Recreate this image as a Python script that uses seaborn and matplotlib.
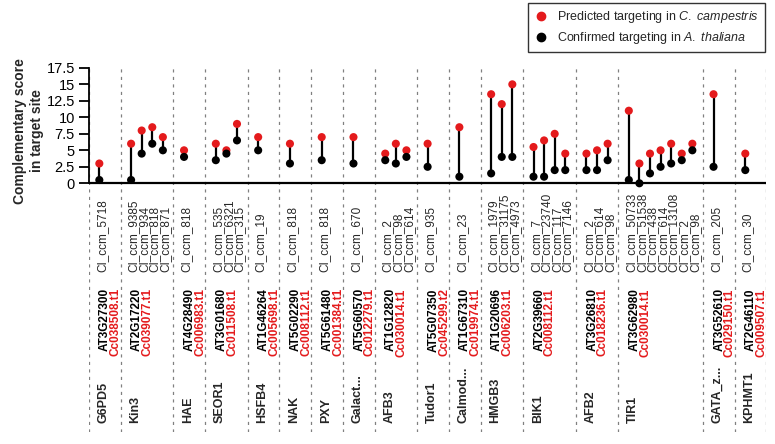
import numpy as np
import pandas as pd
import matplotlib
matplotlib.use("Agg")
import matplotlib.pyplot as plt
from matplotlib.lines import Line2D
import seaborn as sns

# ---------------------------
# Data
# ---------------------------
genes = ["G6PD5", "Kin3", "HAE", "SEOR1", "HSFB4", "NAK", "PXY", "Galact...",
         "AFB3", "Tudor1", "Calmod...", "HMGB3", "BIK1", "AFB2", "TIR1",
         "GATA_z...", "KPHMT1"]

at_ids = ["AT3G27300", "AT2G17220", "AT4G28490", "AT3G01680", "AT1G46264",
          "AT5G02290", "AT5G61480", "AT5G60570", "AT1G12820", "AT5G07350",
          "AT1G67310", "AT1G20696", "AT2G39660", "AT3G26810", "AT3G62980",
          "AT3G52610", "AT2G46110"]

cc_ids = ["Cc038508.t1", "Cc039077.t1", "Cc006983.t1", "Cc011508.t1",
          "Cc005698.t1", "Cc008112.t1", "Cc001384.t1", "Cc012279.t1",
          "Cc030014.t1", "Cc045299.t2", "Cc019974.t1", "Cc006203.t1",
          "Cc008112.t1", "Cc018236.t1", "Cc030014.t1", "Cc029150.t1",
          "Cc009507.t1"]

ci_labels = [
    ["CI_ccm_5718"],
    ["CI_ccm_9385", "CI_ccm_934", "CI_ccm_818", "CI_ccm_871"],
    ["CI_ccm_818"],
    ["CI_ccm_535", "CI_ccm_6321", "CI_ccm_315"],
    ["CI_ccm_19"],
    ["CI_ccm_818"],
    ["CI_ccm_818"],
    ["CI_ccm_670"],
    ["CI_ccm_2", "CI_ccm_98", "CI_ccm_614"],
    ["CI_ccm_935"],
    ["CI_ccm_23"],
    ["CI_ccm_1979", "CI_ccm_31175", "CI_ccm_4973"],
    ["CI_ccm_7", "CI_ccm_23740", "CI_ccm_117", "CI_ccm_7146"],
    ["CI_ccm_2", "CI_ccm_614", "CI_ccm_98"],
    ["CI_ccm_50733", "CI_ccm_51538", "CI_ccm_438", "CI_ccm_614",
     "CI_ccm_13108", "CI_ccm_2", "CI_ccm_98"],
    ["CI_ccm_205"],
    ["CI_ccm_30"],
]

predicted = [[3], [6, 8, 8.5, 7], [5], [6, 5, 9], [7], [6], [7], [7],
             [4.5, 6, 5], [6], [8.5], [13.5, 12, 15], [5.5, 6.5, 7.5, 4.5],
             [4.5, 5, 6], [11, 3, 4.5, 5, 6, 4.5, 6], [13.5], [4.5]]

confirmed = [[0.5], [0.5, 4.5, 6, 5], [4], [3.5, 4.5, 6.5], [5], [3], [3.5], [3],
             [3.5, 3, 4], [2.5], [1], [1.5, 4, 4], [1, 1, 2, 2],
             [2, 2, 3.5], [0.5, 0, 1.5, 2.5, 3, 3.5, 5], [2.5], [2]]

RED = "#E41A1C"

# ---------------------------
# Style
# ---------------------------
sns.set_style("white")
plt.rcParams["font.family"] = ["Liberation Sans", "DejaVu Sans"]
plt.rcParams["mathtext.fontset"] = "custom"
plt.rcParams["mathtext.rm"] = "Liberation Sans"
plt.rcParams["mathtext.it"] = "Liberation Sans:italic"

# ---------------------------
# Slot layout: each gene gets max(n, 2) slots + 1 gap
# ---------------------------
rows = []
group_start = []
separators = [-1]
pos = 0
for g, labels in enumerate(ci_labels):
    group_start.append(pos)
    for k, lab in enumerate(labels):
        rows.append({"slot": pos + k, "ci": lab,
                     "pred": predicted[g][k], "conf": confirmed[g][k]})
    width = max(len(labels), 2)
    separators.append(pos + width)
    pos += width + 1

df = pd.DataFrame(rows)
long_df = df.melt(id_vars=["slot"], value_vars=["pred", "conf"],
                  var_name="series", value_name="score")

# ---------------------------
# Plot
# ---------------------------
fig = plt.figure(figsize=(7.75, 4.44), dpi=100)
ax = fig.add_axes([0.1145, 0.027, 0.8745, 0.8266])

y_top, y_bottom = 17.93, -37.7

ax.vlines(separators, y_bottom, y_top, colors="#808080", linewidth=0.9,
          linestyles=(0, (2.5, 3.5)), zorder=1)
ax.vlines(df["slot"], df["conf"], df["pred"], colors="black",
          linewidth=1.6, zorder=2)
ax.axhline(0, color="black", linewidth=1.6, zorder=2)

sns.scatterplot(data=long_df, x="slot", y="score", hue="series",
                palette={"pred": RED, "conf": "black"}, s=34, linewidth=0,
                legend=False, ax=ax, zorder=3)

# labels below the baseline
for _, r in df.iterrows():
    ax.text(r["slot"] + 0.25, -13.4, r["ci"], rotation=90, ha="center",
            va="bottom", fontsize=8.5)

for g, start in enumerate(group_start):
    ax.text(start + 0.55, -15.9, at_ids[g], rotation=90, ha="center",
            va="top", fontsize=8.5, fontweight="bold", color="black")
    ax.text(start + 1.55, -15.9, cc_ids[g], rotation=90, ha="center",
            va="top", fontsize=8.5, fontweight="bold", color=RED)
    ax.text(start + 0.4, -36.3, genes[g], rotation=90, ha="center",
            va="bottom", fontsize=9, fontweight="bold")

# ---------------------------
# Axes styling
# ---------------------------
ax.set_xlim(-1, 63)
ax.set_ylim(y_bottom, y_top)
ax.set_xticks([])
yt = np.arange(0, 17.6, 2.5)
ax.set_yticks(yt)
ax.set_yticklabels([f"{v:g}" for v in yt])
ax.tick_params(axis="y", length=7, width=1.3, pad=3, labelsize=10.5,
               left=True, colors="black")
for side in ["top", "right", "bottom"]:
    ax.spines[side].set_visible(False)
ax.spines["left"].set_bounds(0, 17.5)
ax.spines["left"].set_linewidth(1.3)
ax.spines["left"].set_color("black")
ax.set_xlabel("")
ax.set_ylabel("")

fig.text(0.0365, 1 - 131 / 444, "Complementary score\nin target site",
         rotation=90, ha="center", va="center", fontsize=10,
         fontweight="bold", linespacing=1.25)

handles = [Line2D([], [], marker="o", linestyle="", color=RED, markersize=6),
           Line2D([], [], marker="o", linestyle="", color="black", markersize=6)]
labels = [r"Predicted targeting in $\mathit{C.\ campestris}$",
          r"Confirmed targeting in $\mathit{A.\ thaliana}$"]
leg = fig.legend(handles, labels, loc="upper right",
                 bbox_to_anchor=(765 / 775, 1 - 3 / 444), frameon=True,
                 fancybox=False, edgecolor="black", fontsize=9,
                 handlelength=1.0, handletextpad=0.8, borderpad=0.5,
                 labelspacing=0.4, borderaxespad=0)
leg.get_frame().set_linewidth(1.0)

fig.savefig("out.png", dpi=100)
plt.close(fig)
